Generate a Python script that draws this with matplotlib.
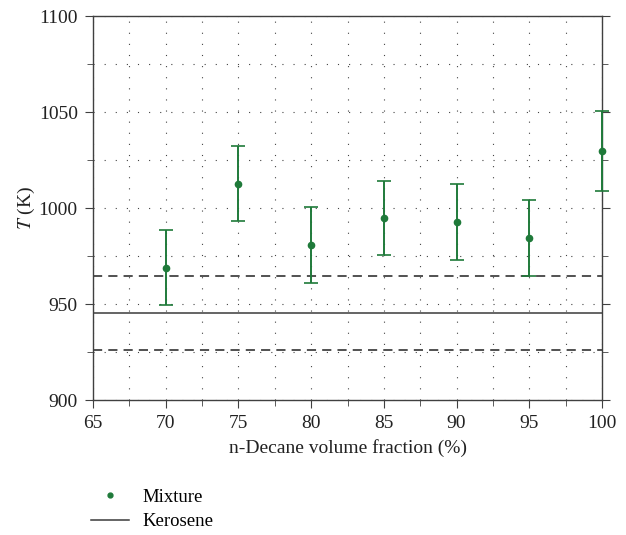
import matplotlib.pyplot as plt
from matplotlib.ticker import MultipleLocator
from matplotlib.lines import Line2D

fraction = [70, 75, 80, 85, 90, 95, 100]
temp_mix = [969.0, 1012.6, 980.7, 994.8, 992.6, 984.4, 1029.7]
temp_err = [19.3, 19.5, 19.7, 19.4, 19.7, 20.0, 20.6]

kero_mean = 945.3
kero_upper = 964.6
kero_lower = 926.0

plt.rcParams['font.family'] = ['Liberation Serif', 'DejaVu Serif']
plt.rcParams['mathtext.fontset'] = 'stix'

fig = plt.figure(figsize=(6.26, 5.35), dpi=100)
ax = fig.add_axes([0.1486, 0.2523, 0.8131, 0.7177])

green = '#1f7a3a'
ax.errorbar(fraction, temp_mix, yerr=temp_err, fmt='o', color=green, ecolor=green,
            markersize=4.5, elinewidth=1.4, capsize=5, capthick=1.2, zorder=3,
            clip_on=False)
ax.plot([65, 100], [kero_mean, kero_mean], color='#3a3a3a', linewidth=1.1)
ax.plot([65, 100], [kero_upper, kero_upper], color='#222222', linewidth=1.1, linestyle=(0, (6, 4)))
ax.plot([65, 100], [kero_lower, kero_lower], color='#222222', linewidth=1.1, linestyle=(0, (6, 4)))

ax.set_xlim(65, 100)
ax.set_ylim(900, 1100)
ax.xaxis.set_major_locator(MultipleLocator(5))
ax.xaxis.set_minor_locator(MultipleLocator(2.5))
ax.yaxis.set_major_locator(MultipleLocator(50))
ax.yaxis.set_minor_locator(MultipleLocator(25))

ax.grid(True, which='both', color='#444444', linestyle=(0, (1, 9)), linewidth=0.8)
ax.set_axisbelow(True)

for s in ax.spines.values():
    s.set_color('#404040')
    s.set_linewidth(1.0)

ax.tick_params(which='both', direction='out', colors='#404040', labelcolor='#222222',
               labelsize=14, right=True, top=False)
ax.tick_params(which='major', length=6)
ax.tick_params(which='minor', length=4)
ax.tick_params(axis='y', pad=5)
ax.tick_params(axis='x', pad=5)

ax.set_xlabel('n-Decane volume fraction (%)', fontsize=14, color='#222222', labelpad=5)
ax.set_ylabel(r'$T$ (K)', fontsize=14, color='#222222', labelpad=1)

handles = [
    Line2D([], [], marker='o', linestyle='none', color=green, markersize=3.5),
    Line2D([], [], color='#3a3a3a', linewidth=1.1),
]
fig.legend(handles, ['Mixture', 'Kerosene'], loc='upper left', bbox_to_anchor=(0.146, 0.087),
           frameon=False, fontsize=13.5, handlelength=2.0, handletextpad=0.7,
           labelspacing=0.4, borderaxespad=0, borderpad=0)

plt.savefig('out.png', dpi=100)
